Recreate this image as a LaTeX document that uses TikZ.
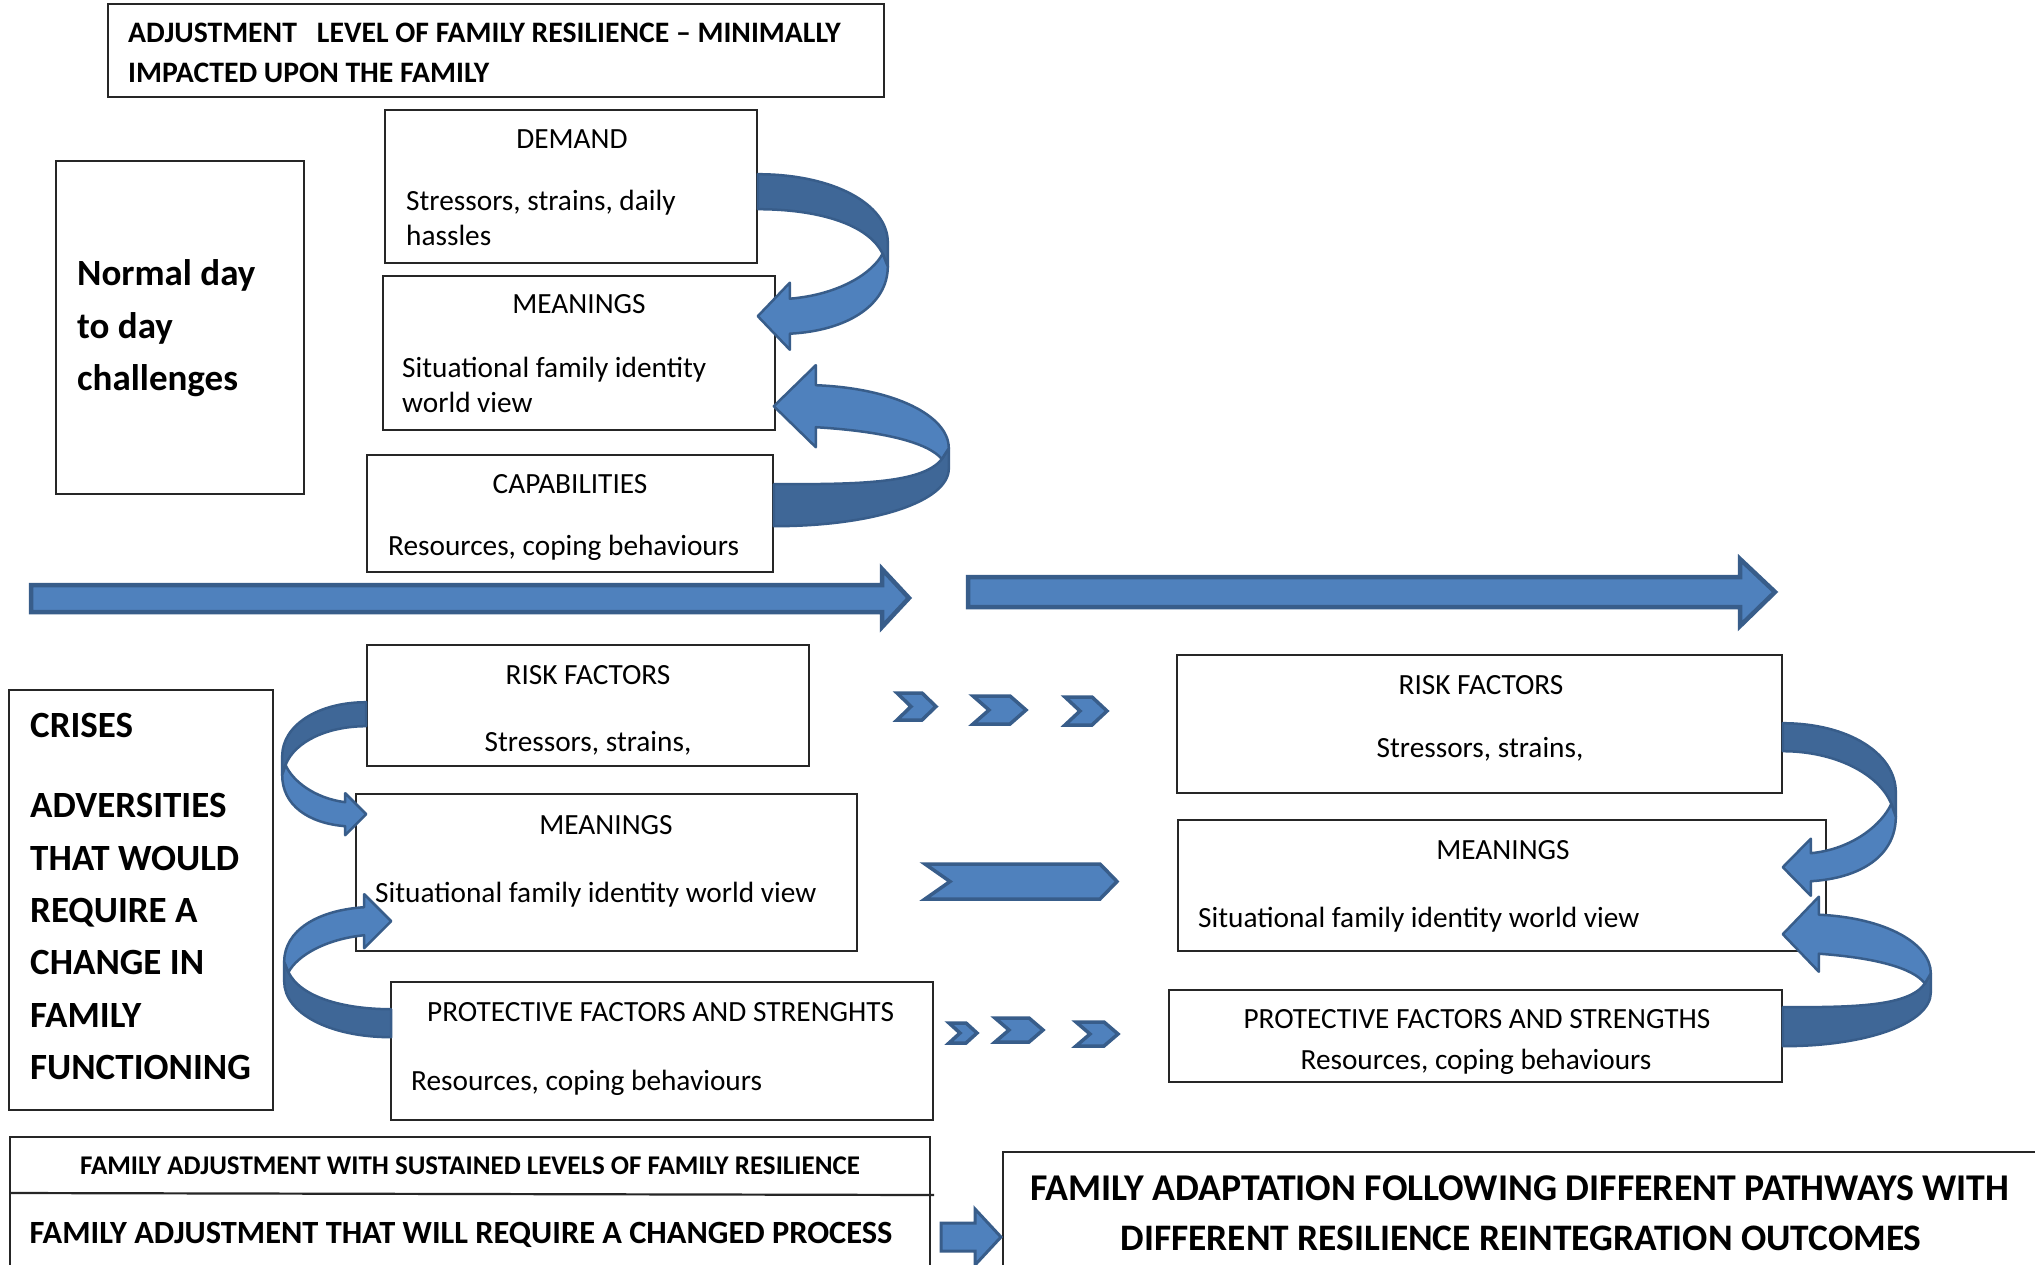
\documentclass[tikz,border=0pt]{standalone}
\usepackage{fontspec}
\setmainfont{Carlito}
\usetikzlibrary{calc}
\definecolor{alight}{HTML}{4F81BD}
\definecolor{adark}{HTML}{3F6797}
\definecolor{aline}{HTML}{385D8A}
\tikzset{
  box/.style={draw=black!85, line width=1.6pt, fill=white, inner sep=0pt},
  tx/.style={inner sep=0pt, font=\fontsize{29.3pt}{35pt}\selectfont},
  bx/.style={inner sep=0pt, font=\fontsize{37pt}{44pt}\selectfont\bfseries},
  tb/.style={inner sep=0pt, font=\fontsize{29.7pt}{35pt}\selectfont\bfseries},
  blockarrow/.style={fill=alight, draw=aline, line width=4.5pt, line join=miter},
  chev/.style={fill=alight, draw=aline, line width=3.5pt, line join=miter},
  curv/.style={draw=aline, line width=2.5pt, line join=round},
}
\newcommand\mybox[5]{\node[box, minimum width={(#4-#2)*1pt}, minimum height={(#5-#3)*1pt}] (#1) at ({(#2+#4)/2},{(#3+#5)/2}) {};}
\newcommand\chevron[6]{\draw[chev] (#2,#4) -- ({#3-#6},#4) -- (#3,{(#4+#5)/2}) -- ({#3-#6},#5) -- (#2,#5) -- ({#2+#6},{(#4+#5)/2}) -- cycle; \coordinate (#1) at ({(#2+#3)/2},{(#4+#5)/2});}
% #1 origin expr, #2 xs, #3 ys, #4 W, #5 t, #6 T, #7 hh, #8 L
\newcommand\uarrow[8]{%
\begin{scope}[shift={($#1$)}, xscale=#2, yscale=#3]
\def\uW{#4}\def\ut{#5}\def\uT{#6}\def\uh{#7}\def\uL{#8}
\filldraw[curv, fill=adark]
 (0,0) .. controls ({0.58*\uW},0) and (\uW,{0.21*\uT}) .. (\uW,{0.48*\uT})
 -- (\uW,{0.65*\uT}) -- ({0.96*\uW},{0.56*\uT})
 .. controls ({0.85*\uW},{0.35*\uT}) and ({0.46*\uW},\ut) .. (0,\ut) -- cycle;
\filldraw[curv, fill=alight]
 ({0.96*\uW},{0.56*\uT}) -- (\uW,{0.65*\uT})
 .. controls (\uW,{0.92*\uT}) and ({0.69*\uW},{\uT+0.5*\ut-3}) .. (\uL,{\uT+0.5*\ut})
 -- (\uL,{\uT+\uh}) -- (0,\uT) -- (\uL,{\uT-\uh}) -- (\uL,{\uT-0.5*\ut})
 .. controls ({0.62*\uW},{\uT-0.5*\ut-4}) and ({0.88*\uW},{0.70*\uT}) .. ({0.96*\uW},{0.56*\uT}) -- cycle;
\end{scope}}
\begin{document}
\begin{tikzpicture}[x=1pt,y=-1pt]
\useasboundingbox (0,0) rectangle (2035,1264);
\clip (0,0) rectangle (2035,1264);
\fill[white] (0,0) rectangle (2035,1264);

% boxes
\mybox{topbox}{108}{4}{884}{97}
\mybox{demand}{385}{110}{757}{263}
\mybox{meanT}{383}{276}{775}{430}
\mybox{capab}{367}{455}{773}{572}
\mybox{normal}{56}{161}{304}{494}
\mybox{riskL}{367}{645}{809}{766}
\mybox{meanL}{356}{794}{857}{951}
\mybox{protL}{391}{982}{933}{1120}
\mybox{crises}{9}{690}{273}{1110}
\mybox{riskR}{1177}{655}{1782}{793}
\mybox{meanR}{1178}{820}{1826}{951}
\mybox{protR}{1169}{990}{1782}{1082}
\mybox{adjbox}{10}{1137}{930}{1300}
\mybox{adapt}{1003}{1152}{2060}{1300}
\draw[black!85, line width=2.2pt] (adjbox.west |- 0,1193) -- (934,1195);

% texts
\node[tb, anchor=base west] (tt1) at (128,42) {ADJUSTMENT\hspace{20pt}LEVEL OF FAMILY RESILIENCE – MINIMALLY};
\node[tb, anchor=base west] (tt2) at (128,82) {IMPACTED UPON THE FAMILY};
\node[tx, anchor=base] (d1) at (572,148) {DEMAND};
\node[tx, anchor=base west] (d2) at (406,210) {Stressors, strains, daily};
\node[tx, anchor=base west] (d3) at (406,245) {hassles};
\node[tx, anchor=base] (m1) at (579,313) {MEANINGS};
\node[tx, anchor=base west] (m2) at (402,377) {Situational family identity};
\node[tx, anchor=base west] (m3) at (402,412) {world view};
\node[tx, anchor=base] (c1) at (570,493) {CAPABILITIES};
\node[tx, anchor=base west] (c2) at (388,555) {Resources, coping behaviours};
\node[bx, anchor=base west] (n1) at (77,285) {Normal day};
\node[bx, anchor=base west] (n2) at (77,338) {to day};
\node[bx, anchor=base west] (n3) at (77,390) {challenges};

\node[bx, anchor=base west] (k1) at (30,737) {CRISES};
\node[bx, anchor=base west] (k2) at (30,817) {ADVERSITIES};
\node[bx, anchor=base west] (k3) at (30,870) {THAT WOULD};
\node[bx, anchor=base west] (k4) at (30,922) {REQUIRE A};
\node[bx, anchor=base west] (k5) at (30,974) {CHANGE IN};
\node[bx, anchor=base west] (k6) at (30,1027) {FAMILY};
\node[bx, anchor=base west] (k7) at (30,1079) {FUNCTIONING};

\node[tx, anchor=base] (rl1) at (588,684) {RISK FACTORS};
\node[tx, anchor=base] (rl2) at (588,751) {Stressors, strains,};
\node[tx, anchor=base] (ml1) at (606,834) {MEANINGS};
\node[tx, anchor=base west] (ml2) at (375,902) {Situational family identity world view};
\node[tx, anchor=base west] (pl1) at (427,1021) {PROTECTIVE FACTORS AND STRENGHTS};
\node[tx, anchor=base west] (pl2) at (411,1090) {Resources, coping behaviours};

\node[tx, anchor=base] (rr1) at (1481,694) {RISK FACTORS};
\node[tx, anchor=base] (rr2) at (1480,757) {Stressors, strains,};
\node[tx, anchor=base] (mr1) at (1503,859) {MEANINGS};
\node[tx, anchor=base west] (mr2) at (1198,927) {Situational family identity world view};
\node[tx, anchor=base] (pr1) at (1477,1028) {PROTECTIVE FACTORS AND STRENGTHS};
\node[tx, anchor=base] (pr2) at (1476,1069) {Resources, coping behaviours};

\node[inner sep=0pt, anchor=base, font=\fontsize{27pt}{32pt}\selectfont\bfseries] (b1) at (470,1174) {FAMILY ADJUSTMENT WITH SUSTAINED LEVELS OF FAMILY RESILIENCE};
\node[inner sep=0pt, anchor=base, font=\fontsize{32.4pt}{38pt}\selectfont\bfseries] (b2) at (461,1243) {FAMILY ADJUSTMENT THAT WILL REQUIRE A CHANGED PROCESS};
\node[inner sep=0pt, anchor=base, font=\fontsize{37.8pt}{44pt}\selectfont\bfseries] (a1) at (1520,1200) {FAMILY ADAPTATION FOLLOWING DIFFERENT PATHWAYS WITH};
\node[inner sep=0pt, anchor=base, font=\fontsize{37.4pt}{44pt}\selectfont\bfseries] (a2) at (1521,1250) {DIFFERENT RESILIENCE REINTEGRATION OUTCOMES};

% big block arrows
\draw[blockarrow] (31,585) -- (882,585) -- (882,569) -- (909,598) -- (882,627) -- (882,612) -- (31,612) -- cycle;
\draw[blockarrow] (968,577) -- (1740,577) -- (1740,559) -- (1775,592) -- (1740,626) -- (1740,607) -- (968,607) -- cycle;
% small bottom arrow
\draw[blockarrow, line width=3pt] (941,1223) -- (975,1223) -- (975,1209) -- (1001,1237) -- (975,1265) -- (975,1251) -- (941,1251) -- cycle;

% chevrons
\chevron{ch1}{897}{936}{693}{720}{14}
\chevron{ch2}{973}{1026}{696}{724}{16}
\chevron{ch3}{1065}{1107}{697}{725}{15}
\chevron{ch4}{949}{977}{1023}{1043}{11}
\chevron{ch5}{995}{1043}{1018}{1042}{14}
\chevron{ch6}{1076}{1118}{1022}{1046}{14}
\draw[chev] (925,864) -- (1100,864) -- (1117,881.5) -- (1100,899) -- (925,899) -- (950,881.5) -- cycle;

% curved arrows
\uarrow{(demand.north east)+(0,65)}{1}{1}{130}{35}{142}{33.5}{32}
\uarrow{(capab.north east)+(0,72)}{1}{-1}{175}{42}{120}{41}{42}
\uarrow{(riskL.north west)+(0,58)}{-1}{1}{84}{24}{112}{21}{21}
\uarrow{(protL.north west)+(1,56)}{-1}{-1}{107}{28}{116}{27}{27}
\uarrow{(riskR.north east)+(0,69)}{1}{1}{113}{28}{144}{28.5}{28}
\uarrow{(protR.north east)+(0,57)}{1}{-1}{148}{39}{112}{37.5}{36}
\end{tikzpicture}
\end{document}
